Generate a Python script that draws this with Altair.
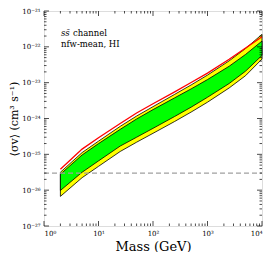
import altair as alt
import pandas as pd

# ---- data ----
mass = [2, 5, 10, 25, 50, 100, 250, 500, 1000, 2500, 5000, 10000]
red_limit = [3.82e-26, 1.40e-25, 2.9e-25, 7.28e-25, 1.42e-24, 2.59e-24, 5.53e-24, 1.01e-23, 1.85e-23, 4.48e-23, 9.29e-23, 1.92e-22]
yellow_hi = [3.16e-26, 1.12e-25, 2.33e-25, 6.03e-25, 1.17e-24, 2.14e-24, 4.72e-24, 8.63e-24, 1.63e-23, 4.07e-23, 9.0e-23, 2.23e-22]
green_hi = [2.79e-26, 9.6e-26, 1.99e-25, 4.98e-25, 9.7e-25, 1.77e-24, 3.78e-24, 6.70e-24, 1.22e-23, 2.88e-23, 6.15e-23, 1.45e-22]
green_lo = [9.8e-27, 3.16e-26, 6.55e-26, 1.70e-25, 3.0e-25, 5.31e-25, 1.14e-24, 2.07e-24, 3.91e-24, 9.48e-24, 2.1e-23, 5.77e-23]
yellow_lo = [6.7e-27, 2.23e-26, 4.62e-26, 1.20e-25, 2.18e-25, 3.86e-25, 8.27e-25, 1.51e-24, 2.85e-24, 7.13e-24, 1.57e-23, 4.57e-23]
thermal = [3e-26]

x_major = [1, 10, 100, 1000, 10000]
x_labels = ["10⁰", "10¹", "10²", "10³", "10⁴"]
y_major = [1e-27, 1e-26, 1e-25, 1e-24, 1e-23, 1e-22, 1e-21]
y_labels = ["10⁻²⁷", "10⁻²⁶", "10⁻²⁵", "10⁻²⁴", "10⁻²³", "10⁻²²", "10⁻²¹"]
x_minor = [k * 10 ** d for d in range(4) for k in range(2, 10)]
y_minor = [k * 10.0 ** d for d in range(-27, -21) for k in range(2, 10)]

annot_1a = "ss̄"
annot_1b = "channel"
annot_2 = "nfw-mean, HI"

# ---- chart ----
W, H = 218, 215
FONT = "DejaVu Serif"


def ternary(values, labels):
    expr = f"'{labels[-1]}'"
    for v, lab in reversed(list(zip(values[:-1], labels[:-1]))):
        expr = f"datum.value < {v * 3:g} ? '{lab}' : " + expr
    return expr


xscale = alt.Scale(type="log", domain=[1, 1e4], nice=False)
yscale = alt.Scale(type="log", domain=[1e-27, 1e-21], nice=False)
xaxis = alt.Axis(values=x_major, labelExpr=ternary(x_major, x_labels), ticks=False, domain=False,
                 grid=False, labelFont=FONT, labelFontSize=7, labelPadding=3, titleFont=FONT,
                 titleFontSize=13, titleFontWeight="normal", titlePadding=4, labelColor="black", titleColor="black")
yaxis = alt.Axis(values=y_major, labelExpr=ternary(y_major, y_labels), ticks=False, domain=False,
                 grid=False, labelFont=FONT, labelFontSize=7, labelPadding=4, titleFont=FONT,
                 titleFontSize=11, titleFontWeight="normal", titleX=-30, titleY=H / 2,
                 titleAlign="center", titleBaseline="middle", labelColor="black", titleColor="black")
XT = "Mass (GeV)"
YT = "⟨σv⟩ (cm³ s⁻¹)"


def X(f):
    return alt.X(f, type="quantitative", scale=xscale, axis=xaxis, title=XT)


def Y(f):
    return alt.Y(f, type="quantitative", scale=yscale, axis=yaxis, title=YT)


df = pd.DataFrame({"mass": mass, "red": red_limit, "yhi": yellow_hi, "ghi": green_hi,
                   "glo": green_lo, "ylo": yellow_lo})

yellow = alt.Chart(df).mark_area(color="#ffff00", stroke="black", strokeWidth=0.8, opacity=1).encode(
    x=X("mass"), y=Y("yhi"), y2="ylo")
green = alt.Chart(df).mark_area(color="#00ff00", stroke="black", strokeWidth=0.8, opacity=1).encode(
    x=X("mass"), y=Y("ghi"), y2="glo")
red = alt.Chart(df).mark_line(color="#ff0000", strokeWidth=1.3).encode(x=X("mass"), y=Y("red"))

dash = alt.Chart(pd.DataFrame({"sv": thermal})).mark_rule(
    color="#a0a0a0", strokeWidth=1.2, strokeDash=[5, 3]).encode(y=Y("sv"), x=alt.value(0), x2=alt.value(W))


def xticks(vals, length):
    d = pd.DataFrame({"v": vals})
    bot = alt.Chart(d).mark_rule(color="black", strokeWidth=0.7).encode(
        x=X("v"), y=alt.value(H), y2=alt.value(H - length))
    top = alt.Chart(d).mark_rule(color="black", strokeWidth=0.7).encode(
        x=X("v"), y=alt.value(0), y2=alt.value(length))
    return [bot, top]


def yticks(vals, length):
    d = pd.DataFrame({"v": vals})
    left = alt.Chart(d).mark_rule(color="black", strokeWidth=0.7).encode(
        y=Y("v"), x=alt.value(0), x2=alt.value(length))
    right = alt.Chart(d).mark_rule(color="black", strokeWidth=0.7).encode(
        y=Y("v"), x=alt.value(W), x2=alt.value(W - length))
    return [left, right]


def label(t, x, y, style="normal"):
    return alt.Chart(pd.DataFrame({"t": [t]})).mark_text(
        align="left", baseline="middle", font=FONT, fontSize=8.5, fontStyle=style, color="black").encode(
        text="t:N", x=alt.value(x), y=alt.value(y))


texts = [label(annot_1a, 17, 22, "italic"), label(annot_1b, 29, 22), label(annot_2, 17, 33)]

layers = [yellow, green, red, dash] + xticks(x_major, 5) + xticks(x_minor, 2.5) \
    + yticks(y_major, 5) + yticks(y_minor, 2.5) + texts

chart = alt.layer(*layers).properties(
    width=W, height=H,
    autosize=alt.AutoSizeParams(type="none"),
    padding={"left": 36, "top": 3, "right": 4, "bottom": 26},
).configure_view(stroke="black", strokeWidth=1).configure(background="white")

chart.save("out.html", embed_options={"renderer": "svg", "actions": False})
